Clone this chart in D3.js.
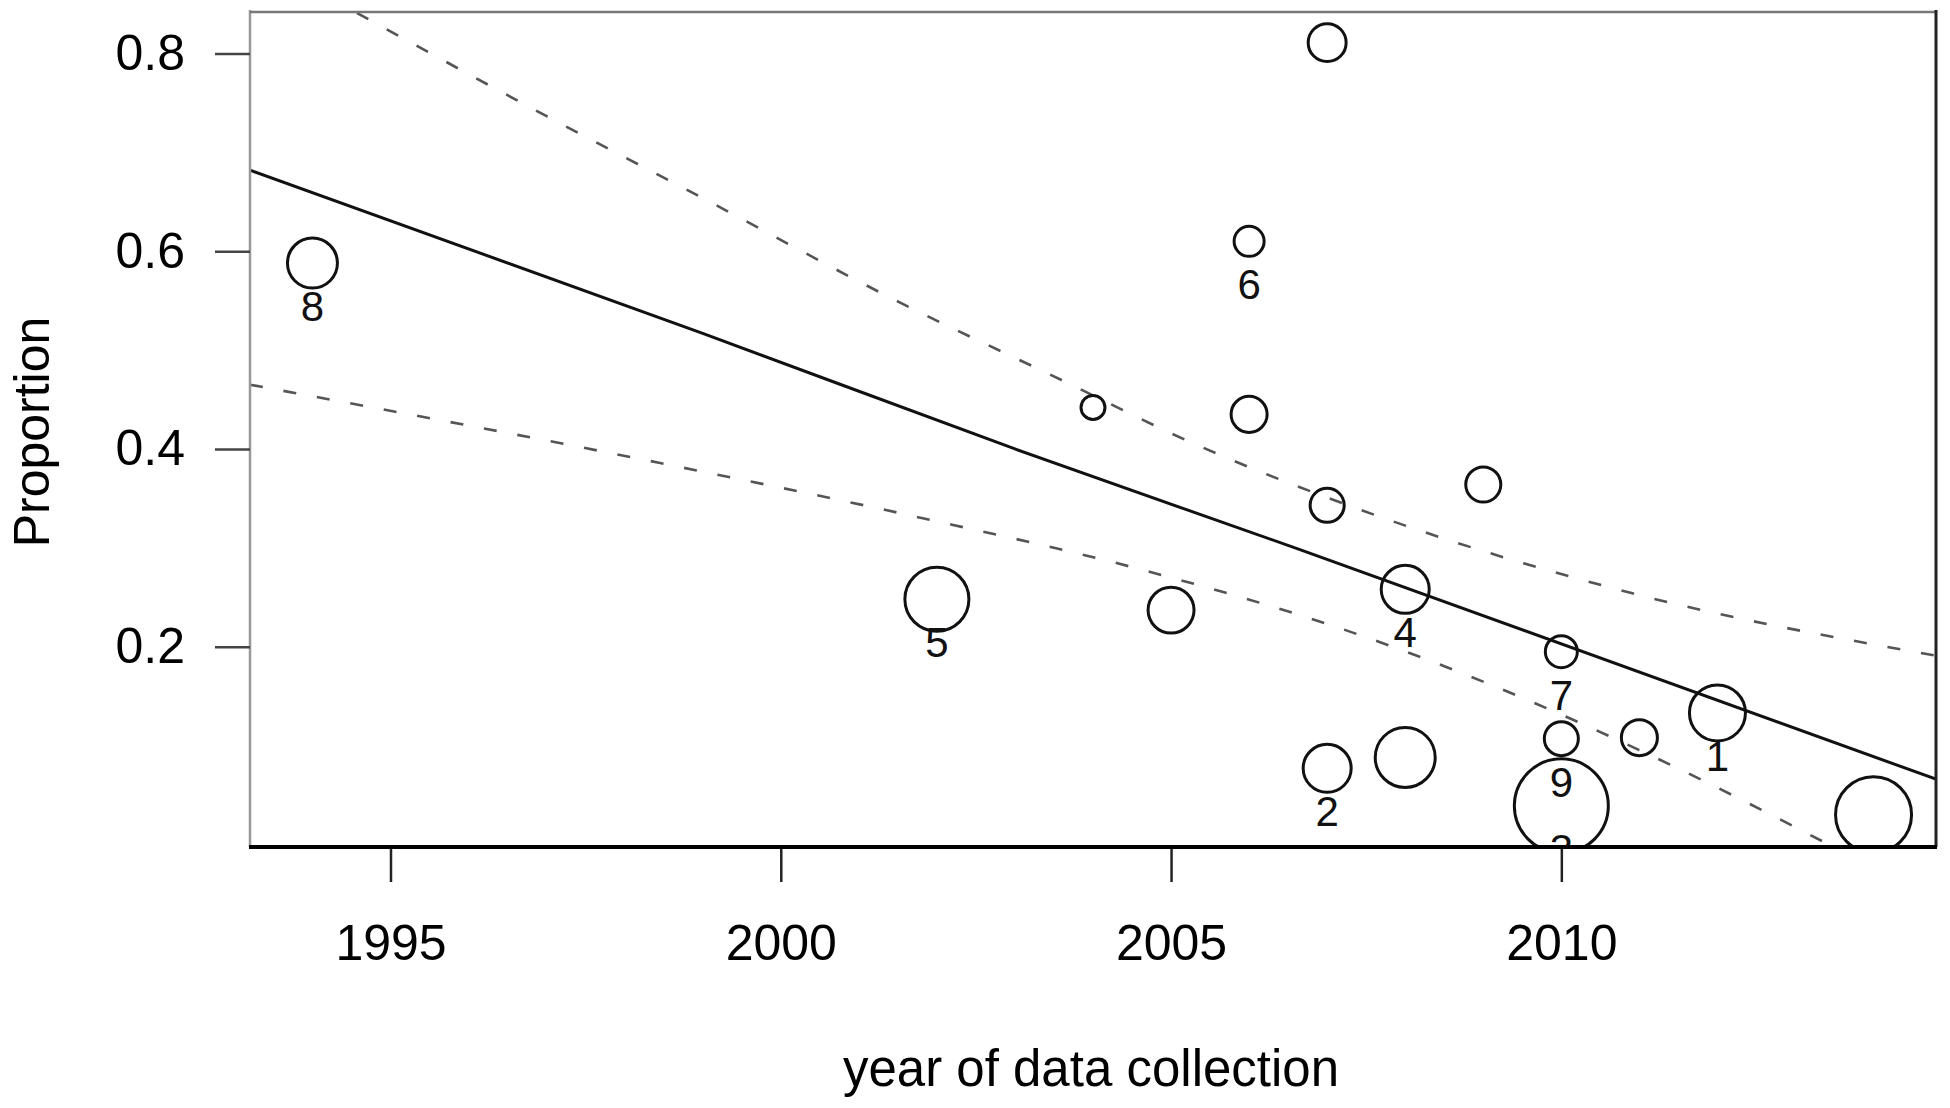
<!DOCTYPE html>
<html>
<head>
<meta charset="utf-8">
<script src="https://d3js.org/d3.v7.min.js"></script>
<style>
  body { margin: 0; background: #fff; }
  svg { display: block; font-family: "Liberation Sans", Arial, sans-serif; }
</style>
</head>
<body>
<div id="plot"></div>
<script>

// frame constants
const FRAME_WIDTH = 1950;
const FRAME_HEIGHT = 1108;
const PLOT = {left: 250, right: 1936, top: 10, bottom: 847};

// study points: year, proportion, weight (circle area), study id
const YEARS = [1994, 2007, 2006, 2004, 2006, 2007, 2009, 2002, 2005,
               2008, 2010, 2012, 2010, 2011, 2007, 2008, 2010, 2014];
const PROPORTIONS = [0.588, 0.811, 0.610, 0.442, 0.435, 0.343, 0.364, 0.248, 0.237,
                     0.258, 0.195, 0.133, 0.107, 0.108, 0.077, 0.088, 0.039, 0.030];
const WEIGHTS = [283, 163, 102, 65, 147, 131, 139, 464, 239,
                 261, 116, 355, 131, 147, 261, 407, 1000, 654];
const STUDY_IDS = ["8", "", "6", "", "", "", "", "5", "",
                   "4", "7", "1", "9", "", "2", "", "3", ""];

// fitted line and confidence band
const FIT_YEARS = [1993.2, 1999, 2003, 2006.66, 2014.8];
const FIT_VALUES = [0.682, 0.517, 0.400, 0.298, 0.066];
const UPPER_YEARS = [1994.57, 1996.92, 1998.97, 2001.53, 2003.59, 2005.19, 2007.62, 2010.91, 2014.8];
const UPPER_VALUES = [0.841, 0.740, 0.655, 0.548, 0.470, 0.409, 0.333, 0.254, 0.191];
const LOWER_YEARS = [1993.2, 1998.44, 2001.76, 2004.62, 2007.3, 2009.05, 2011.44, 2013.35];
const LOWER_VALUES = [0.465, 0.386, 0.331, 0.278, 0.215, 0.163, 0.079, 0.003];

// tick labels
const X_TICKS = [1995, 2000, 2005, 2010];
const Y_TICKS = [0.2, 0.4, 0.6, 0.8];

const FRAME = d3.select("#plot")
                .append("svg")
                  .attr("width", FRAME_WIDTH)
                  .attr("height", FRAME_HEIGHT);

// scales
const X_SCALE = d3.scaleLinear()
                  .domain([1993.2, 2014.8])
                  .range([PLOT.left, PLOT.right]);

const Y_SCALE = d3.scaleLinear()
                  .domain([-0.0026, 0.844])
                  .range([PLOT.bottom, PLOT.top]);

const R_SCALE = d3.scaleSqrt()
                  .domain([0, 1000])
                  .range([0, 47]);

// clip to plot region like R does
FRAME.append("clipPath")
       .attr("id", "plot-clip")
     .append("rect")
       .attr("x", PLOT.left)
       .attr("y", PLOT.top)
       .attr("width", PLOT.right - PLOT.left)
       .attr("height", PLOT.bottom - PLOT.top);

const INNER = FRAME.append("g").attr("clip-path", "url(#plot-clip)");

const toPoints = (xs, ys) => xs.map((x, i) => ({x: x, y: ys[i]}));

const LINE = d3.line()
               .x((d) => { return X_SCALE(d.x); })
               .y((d) => { return Y_SCALE(d.y); })
               .curve(d3.curveMonotoneX);

// confidence band
[toPoints(UPPER_YEARS, UPPER_VALUES), toPoints(LOWER_YEARS, LOWER_VALUES)].forEach((pts) => {
  INNER.append("path")
         .attr("d", LINE(pts))
         .attr("fill", "none")
         .attr("stroke", "#555")
         .attr("stroke-width", 2.6)
         .attr("stroke-dasharray", "13,21");
});

// fitted line
INNER.append("path")
       .attr("d", LINE(toPoints(FIT_YEARS, FIT_VALUES)))
       .attr("fill", "none")
       .attr("stroke", "#111")
       .attr("stroke-width", 3);

const POINTS = YEARS.map((y, i) => ({
  year: y, value: PROPORTIONS[i], weight: WEIGHTS[i], id: STUDY_IDS[i]
}));

// bubbles
INNER.selectAll("circle")
       .data(POINTS)
       .enter()
       .append("circle")
         .attr("cx", (d) => { return X_SCALE(d.year); })
         .attr("cy", (d) => { return Y_SCALE(d.value); })
         .attr("r", (d) => { return R_SCALE(d.weight); })
         .attr("fill", "none")
         .attr("stroke", "#111")
         .attr("stroke-width", 3);

// study labels below points
INNER.selectAll("text.lab")
       .data(POINTS.filter((d) => d.id !== ""))
       .enter()
       .append("text")
         .attr("class", "lab")
         .attr("x", (d) => { return X_SCALE(d.year); })
         .attr("y", (d) => { return Y_SCALE(d.value) + 58; })
         .attr("text-anchor", "middle")
         .attr("font-size", "42px")
         .attr("fill", "#111")
         .text((d) => d.id);

// box: left and top grey, right dark
FRAME.append("line")
       .attr("x1", PLOT.left).attr("x2", PLOT.left)
       .attr("y1", PLOT.top).attr("y2", PLOT.bottom)
       .attr("stroke", "#999").attr("stroke-width", 2.5);
FRAME.append("line")
       .attr("x1", PLOT.left).attr("x2", PLOT.right)
       .attr("y1", PLOT.top + 2).attr("y2", PLOT.top + 2)
       .attr("stroke", "#777").attr("stroke-width", 2.5);
FRAME.append("line")
       .attr("x1", PLOT.right).attr("x2", PLOT.right)
       .attr("y1", PLOT.top).attr("y2", PLOT.bottom)
       .attr("stroke", "#222").attr("stroke-width", 3);

// x axis
const X_AXIS = FRAME.append("g")
                    .attr("transform", "translate(0," + PLOT.bottom + ")")
                    .call(d3.axisBottom(X_SCALE)
                            .tickValues(X_TICKS)
                            .tickFormat(d3.format("d"))
                            .tickSize(35)
                            .tickPadding(42));
X_AXIS.select(".domain").remove();
X_AXIS.selectAll("line").attr("stroke", "#222").attr("stroke-width", 2.5);
X_AXIS.selectAll("text")
        .attr("font-size", "50px")
        .attr("font-family", "Liberation Sans, Arial, sans-serif")
        .attr("fill", "#000");

FRAME.append("line")
       .attr("x1", PLOT.left - 1).attr("x2", PLOT.right + 1)
       .attr("y1", PLOT.bottom).attr("y2", PLOT.bottom)
       .attr("stroke", "#000").attr("stroke-width", 4);

// y axis
const Y_AXIS = FRAME.append("g")
                    .attr("transform", "translate(" + PLOT.left + ",0)")
                    .call(d3.axisLeft(Y_SCALE)
                            .tickValues(Y_TICKS)
                            .tickFormat(d3.format(".1f"))
                            .tickSize(35)
                            .tickPadding(30));
Y_AXIS.select(".domain").remove();
Y_AXIS.selectAll("line").attr("stroke", "#444").attr("stroke-width", 2.5);
Y_AXIS.selectAll("text")
        .attr("font-size", "50px")
        .attr("font-family", "Liberation Sans, Arial, sans-serif")
        .attr("fill", "#000");

// axis titles
FRAME.append("text")
       .attr("x", 1091)
       .attr("y", 1086)
       .attr("text-anchor", "middle")
       .attr("font-size", "51px")
       .text("year of data collection");

FRAME.append("text")
       .attr("transform", "translate(49,432) rotate(-90)")
       .attr("text-anchor", "middle")
       .attr("font-size", "50px")
       .text("Proportion");

</script>
</body>
</html>
